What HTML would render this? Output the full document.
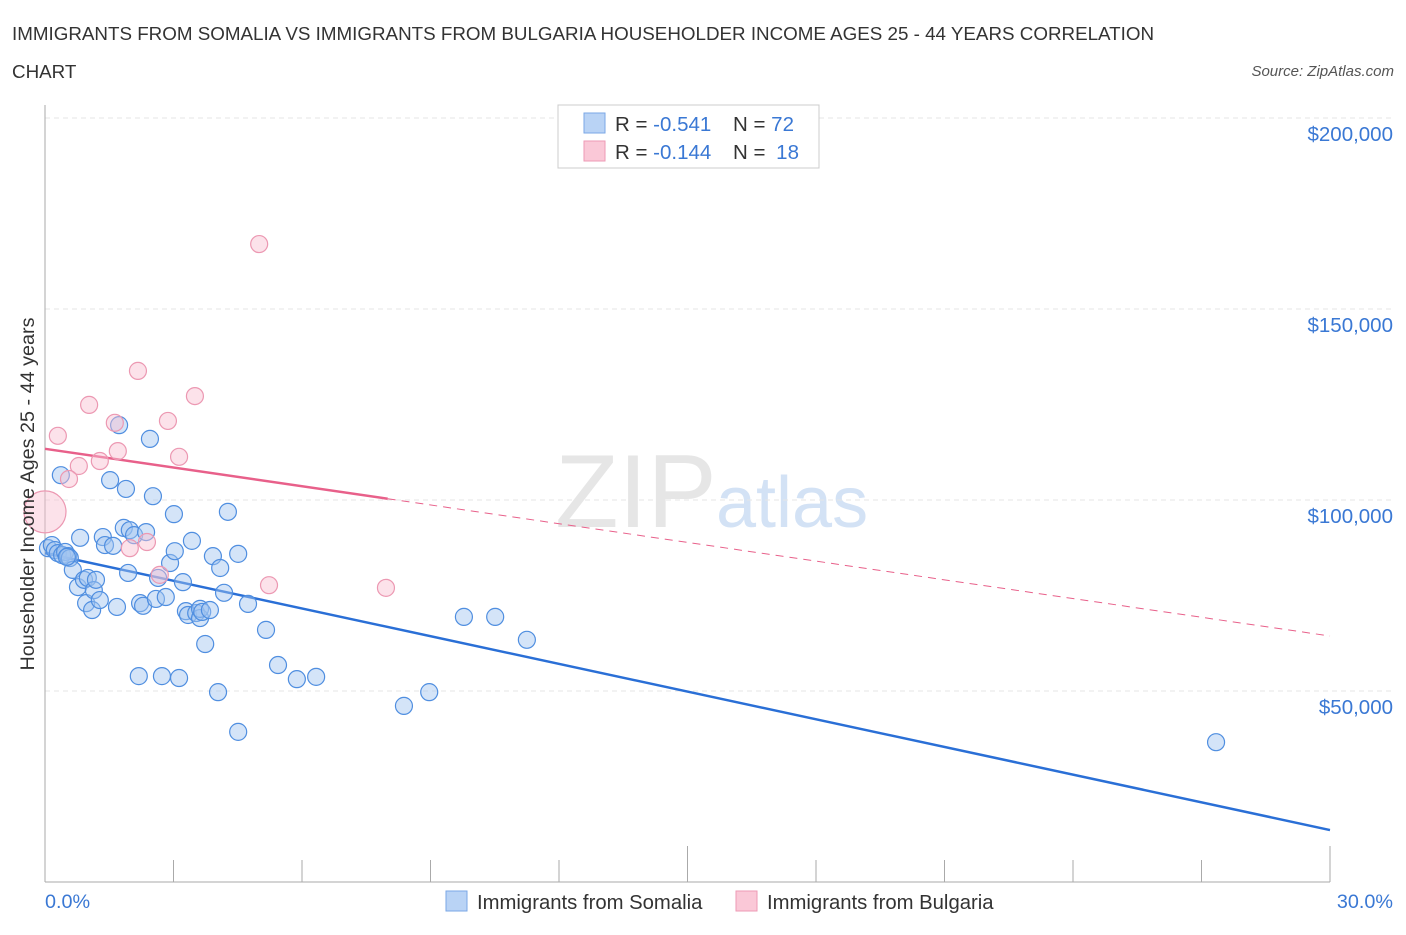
<!DOCTYPE html>
<html><head><meta charset="utf-8"><style>
body{margin:0;background:#fff;font-family:"Liberation Sans",sans-serif;}
svg text{font-family:"Liberation Sans",sans-serif;}
</style></head><body>
<svg id="chart" width="1406" height="930">
<text x="12" y="40" font-size="18.8" fill="#333">IMMIGRANTS FROM SOMALIA VS IMMIGRANTS FROM BULGARIA HOUSEHOLDER INCOME AGES 25 - 44 YEARS CORRELATION</text>
<text x="12" y="78" font-size="18.8" fill="#333">CHART</text>
<text x="1394" y="76" font-size="15" fill="#555" font-style="italic" text-anchor="end">Source: ZipAtlas.com</text>
<text x="555" y="527" font-size="104" fill="#e6e6e6" font-family="Liberation Serif">ZIP</text>
<text x="716" y="527" font-size="72" fill="#d3e2f5">atlas</text>
<g id="grid"></g>
<g id="axes"></g>
<g id="lines"></g>
<g id="pts"></g>
<text transform="translate(34,494) rotate(-90)" font-size="19.8" fill="#333" text-anchor="middle">Householder Income Ages 25 - 44 years</text>
<text x="45" y="908" font-size="19.8" fill="#3a78d4">0.0%</text>
<text x="1393" y="908" font-size="19.8" fill="#3a78d4" text-anchor="end">30.0%</text>
<g>
<rect x="558" y="105" width="261" height="63" fill="#fff" stroke="#ccc"/>
<rect x="584" y="113" width="21" height="20" fill="#b9d3f5" stroke="#7aa7e6"/>
<rect x="584" y="141" width="21" height="20" fill="#fac8d7" stroke="#ee9ab4"/>
<text x="615" y="131" font-size="20.5" fill="#333">R = <tspan fill="#3a78d4">-0.541</tspan><tspan x="733">N = </tspan><tspan fill="#3a78d4">72</tspan></text>
<text x="615" y="159" font-size="20.5" fill="#333">R = <tspan fill="#3a78d4">-0.144</tspan><tspan x="733">N = </tspan><tspan fill="#3a78d4" dx="5">18</tspan></text>
</g>
<g>
<rect x="446" y="891" width="21" height="20" fill="#b9d3f5" stroke="#7aa7e6"/>
<text x="477" y="909" font-size="20.3" fill="#333">Immigrants from Somalia</text>
<rect x="736" y="891" width="21" height="20" fill="#fac8d7" stroke="#ee9ab4"/>
<text x="767" y="909" font-size="20.3" fill="#333">Immigrants from Bulgaria</text>
</g>
</svg>
<script>
const somaliaX=[0.07,0.16,0.23,0.30,0.40,0.47,0.54,0.58,0.65,0.77,0.82,0.91,0.96,1.00,1.10,1.14,1.19,1.28,1.35,1.40,1.52,1.59,1.68,1.73,1.89,1.94,1.84,1.98,2.08,2.19,2.22,2.29,2.36,2.45,2.52,2.59,2.64,2.73,2.82,2.92,3.03,3.01,3.13,3.22,3.29,3.34,3.43,3.53,3.62,3.62,3.67,3.74,3.85,3.92,4.04,4.09,4.18,4.27,4.51,4.51,4.74,5.16,5.44,5.88,6.33,8.38,8.97,9.78,10.51,11.25,27.34,0.37,0.51];
const somaliaY=[87.4,88.2,86.9,86.1,85.6,86.4,85.3,84.8,81.7,77.2,90.1,79.1,73.0,79.6,71.2,76.4,79.1,73.8,90.3,88.2,105.2,88.0,72.0,119.6,102.9,80.9,92.7,92.1,90.8,53.9,73.0,72.3,91.6,116.0,101.0,74.1,79.6,53.9,74.6,83.5,86.6,96.3,53.4,78.5,70.9,69.9,89.3,70.4,69.1,71.5,70.7,62.3,71.2,85.3,49.7,82.2,75.7,96.9,85.9,39.3,72.8,66.0,56.8,53.1,53.7,46.1,49.7,69.4,69.4,63.4,36.6,106.5,85.1];
const bulgariaX=[5.00,2.17,3.50,1.03,2.87,0.30,1.63,1.70,1.28,0.79,0.56,3.13,2.38,1.98,2.68,5.23,7.96];
const bulgariaY=[167.0,133.8,127.2,124.9,120.7,116.8,120.2,112.8,110.2,108.9,105.5,111.3,89.0,87.4,80.4,77.7,77.0];
const bigBulgaria=[0.0,96.9];
const yTicks=[50,100,150,200];
const yTickLabels=["$50,000","$100,000","$150,000","$200,000"];
const somaliaTrend=[86.1,13.6];
const bulgariaTrend=[113.4,64.4];
const bulgariaSolidEnd=8.0;

const X0=45,X1=1330,Y0=882;
function sx(v){return X0+(v/30)*(X1-X0);}
function sy(v){return Y0-v*191/50;}
const NS="http://www.w3.org/2000/svg";
function mk(tag,attrs,parent){const e=document.createElementNS(NS,tag);for(const k in attrs)e.setAttribute(k,attrs[k]);document.getElementById(parent).appendChild(e);return e;}

yTicks.forEach((t,i)=>{
 const l=mk('line',{x1:X0,x2:1395,y1:sy(t),y2:sy(t),stroke:'#e6e6e6','stroke-dasharray':'5,4'},'grid');
 
 
 const tx=mk('text',{x:1393,y:sy(t)+23,'font-size':20.5,fill:'#3a78d4','text-anchor':'end'},'grid');
 tx.textContent=yTickLabels[i];
 
 
});
const ya=mk('line',{x1:X0,x2:X0,y1:105,y2:Y0,stroke:'#aaa'},'axes');


const xa=mk('line',{x1:X0,x2:1330,y1:Y0,y2:Y0,stroke:'#aaa'},'axes');


for(let i=0;i<=10;i++){
 const xx=X0+i*(X1-X0)/10;
 const tk=mk('line',{x1:xx,x2:xx,y1:Y0,y2:i%5==0?846:860,stroke:'#aaa'},'axes');
 
 
}
const bl=mk('line',{x1:sx(0),y1:sy(somaliaTrend[0]),x2:sx(30),y2:sy(somaliaTrend[1]),stroke:'#2a6fd6','stroke-width':2.5},'lines');


const pAt=x=>bulgariaTrend[0]+(bulgariaTrend[1]-bulgariaTrend[0])*x/30;
const pl=mk('line',{x1:sx(0),y1:sy(bulgariaTrend[0]),x2:sx(bulgariaSolidEnd),y2:sy(pAt(bulgariaSolidEnd)),stroke:'#e8608a','stroke-width':2.5},'lines');


const pd=mk('line',{x1:sx(bulgariaSolidEnd),y1:sy(pAt(bulgariaSolidEnd)),x2:sx(30),y2:sy(bulgariaTrend[1]),stroke:'#e8608a','stroke-width':1,'stroke-dasharray':'8,6'},'lines');



somaliaX.forEach((x,i)=>{
 const c=mk('circle',{cx:sx(x),cy:sy(somaliaY[i]),r:8.5,fill:'rgba(160,196,240,0.45)',stroke:'#4f8ee0','stroke-width':1.2},'pts');
 
 
});
bulgariaX.forEach((x,i)=>{
 const c=mk('circle',{cx:sx(x),cy:sy(bulgariaY[i]),r:8.5,fill:'rgba(248,190,208,0.45)',stroke:'#ec98b2','stroke-width':1.2},'pts');
 
 
});
const bc=mk('circle',{cx:sx(bigBulgaria[0]),cy:sy(bigBulgaria[1]),r:21,fill:'rgba(248,190,208,0.45)',stroke:'#ec98b2','stroke-width':1.2},'pts');


</script>
</body></html>
